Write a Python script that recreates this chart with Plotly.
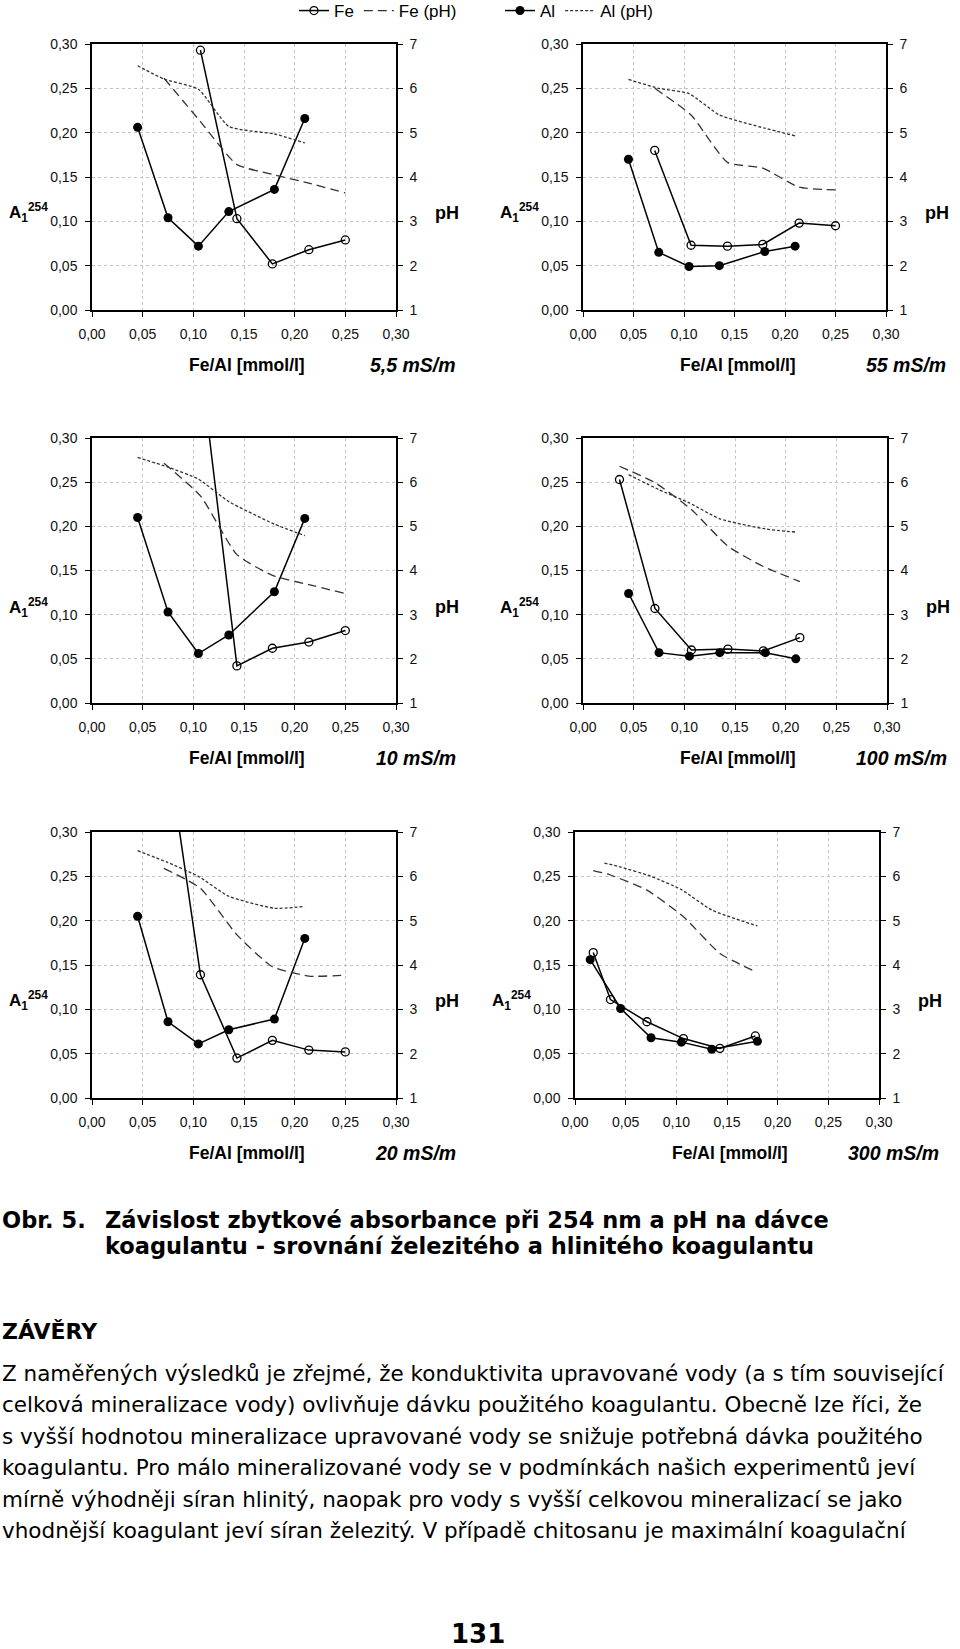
import plotly.graph_objects as go

W, H = 960, 1649

# ---------------- data ----------------
panel_labels = ["5,5 mS/m", "55 mS/m", "10 mS/m", "100 mS/m", "20 mS/m", "300 mS/m"]
x_ticks = [0.00, 0.05, 0.10, 0.15, 0.20, 0.25, 0.30]
a_ticks = [0.00, 0.05, 0.10, 0.15, 0.20, 0.25, 0.30]
ph_ticks = [1, 2, 3, 4, 5, 6, 7]

# panel 1: 5,5 mS/m
fe_x_1 = [0.071, 0.107, 0.143, 0.178, 0.214, 0.250]
fe_a_1 = [None, 0.293, 0.103, 0.052, 0.068, 0.079]
fe_ph_1 = [6.23, 5.25, 4.28, 4.06, 3.86, 3.64]
al_x_1 = [0.045, 0.075, 0.105, 0.135, 0.180, 0.210]
al_a_1 = [0.206, 0.104, 0.072, 0.111, 0.136, 0.216]
al_ph_x_1 = [0.045, 0.071, 0.105, 0.135, 0.180, 0.210]
al_ph_1 = [6.51, 6.21, 5.98, 5.14, 4.97, 4.77]

# panel 2: 55 mS/m
fe_x_2 = [0.071, 0.107, 0.143, 0.178, 0.214, 0.250]
fe_a_2 = [0.180, 0.073, 0.072, 0.074, 0.098, 0.095]
fe_ph_2 = [6.00, 5.40, 4.33, 4.20, 3.77, 3.71]
al_x_2 = [0.045, 0.075, 0.105, 0.135, 0.180, 0.210]
al_a_2 = [0.170, 0.065, 0.049, 0.050, 0.066, 0.072]
al_ph_x_2 = [0.045, 0.075, 0.105, 0.135, 0.180, 0.210]
al_ph_2 = [6.20, 6.00, 5.88, 5.40, 5.10, 4.93]

# panel 3: 10 mS/m
fe_x_3 = [0.071, 0.107, 0.143, 0.178, 0.214, 0.250]
fe_a_3 = [None, 0.385, 0.042, 0.062, 0.069, 0.082]
fe_ph_3 = [6.43, 5.69, 4.36, 3.89, 3.68, 3.48]
al_x_3 = [0.045, 0.075, 0.105, 0.135, 0.180, 0.210]
al_a_3 = [0.210, 0.103, 0.056, 0.077, 0.126, 0.209]
al_ph_x_3 = [0.045, 0.075, 0.105, 0.135, 0.180, 0.210]
al_ph_3 = [6.56, 6.34, 6.07, 5.56, 5.05, 4.79]

# panel 4: 100 mS/m
fe_x_4 = [0.036, 0.071, 0.107, 0.143, 0.178, 0.214]
fe_a_4 = [0.253, 0.107, 0.060, 0.061, 0.059, 0.074]
fe_ph_4 = [6.36, 5.99, 5.38, 4.55, 4.09, 3.75]
al_x_4 = [0.045, 0.075, 0.105, 0.135, 0.180, 0.210]
al_a_4 = [0.124, 0.057, 0.053, 0.057, 0.057, 0.050]
al_ph_x_4 = [0.045, 0.075, 0.105, 0.135, 0.180, 0.210]
al_ph_4 = [6.17, 5.83, 5.53, 5.17, 4.94, 4.87]

# panel 5: 20 mS/m
fe_x_5 = [0.071, 0.107, 0.143, 0.178, 0.214, 0.250]
fe_a_5 = [0.421, 0.139, 0.045, 0.065, 0.054, 0.052]
fe_ph_5 = [6.18, 5.73, 4.68, 3.96, 3.75, 3.77]
al_x_5 = [0.045, 0.075, 0.105, 0.135, 0.180, 0.210]
al_a_5 = [0.205, 0.086, 0.061, 0.077, 0.089, 0.180]
al_ph_x_5 = [0.045, 0.075, 0.105, 0.135, 0.180, 0.210]
al_ph_5 = [6.58, 6.31, 6.00, 5.55, 5.28, 5.32]

# panel 6: 300 mS/m
fe_x_6 = [0.018, 0.035, 0.071, 0.107, 0.143, 0.178]
fe_a_6 = [0.164, 0.111, 0.086, 0.067, 0.056, 0.070]
fe_ph_6 = [6.13, 6.03, 5.69, 5.09, 4.26, 3.85]
al_x_6 = [0.015, 0.045, 0.075, 0.105, 0.135, 0.180]
al_a_6 = [0.156, 0.101, 0.068, 0.063, 0.055, 0.064]
al_ph_x_6 = [0.029, 0.045, 0.075, 0.105, 0.135, 0.180]
al_ph_6 = [6.30, 6.21, 6.00, 5.70, 5.24, 4.88]

caption_lead = "Obr. 5."
caption_lines = [
    "Závislost zbytkové absorbance při 254 nm a pH na dávce",
    "koagulantu - srovnání železitého a hlinitého koagulantu",
]
section_title = "ZÁVĚRY"
paragraph_lines = [
    "Z naměřených výsledků je zřejmé, že konduktivita upravované vody (a s tím související",
    "celková mineralizace vody) ovlivňuje dávku použitého koagulantu. Obecně lze říci, že",
    "s vyšší hodnotou mineralizace upravované vody se snižuje potřebná dávka použitého",
    "koagulantu. Pro málo mineralizované vody se v podmínkách našich experimentů jeví",
    "mírně výhodněji síran hlinitý, naopak pro vody s vyšší celkovou mineralizací se jako",
    "vhodnější koagulant jeví síran železitý. V případě chitosanu je maximální koagulační",
]
page_number = "131"

panels = [
    (fe_x_1, fe_a_1, fe_ph_1, al_x_1, al_a_1, al_ph_x_1, al_ph_1),
    (fe_x_2, fe_a_2, fe_ph_2, al_x_2, al_a_2, al_ph_x_2, al_ph_2),
    (fe_x_3, fe_a_3, fe_ph_3, al_x_3, al_a_3, al_ph_x_3, al_ph_3),
    (fe_x_4, fe_a_4, fe_ph_4, al_x_4, al_a_4, al_ph_x_4, al_ph_4),
    (fe_x_5, fe_a_5, fe_ph_5, al_x_5, al_a_5, al_ph_x_5, al_ph_5),
    (fe_x_6, fe_a_6, fe_ph_6, al_x_6, al_a_6, al_ph_x_6, al_ph_6),
]

# ---------------- layout geometry (pixels) ----------------
boxes = [  # (left, right, top, bottom) of each plot area
    (92, 396, 44, 310),
    (583, 886, 44, 310),
    (92, 396, 438, 703),
    (583, 887, 438, 703),
    (92, 396, 832, 1098),
    (575, 879, 832, 1098),
]


def px(x):
    return x / W


def py(y):
    return 1 - y / H


FONT = "Liberation Sans, Arial, sans-serif"
TEXTFONT = "DejaVu Sans, Verdana, sans-serif"
PH_COLOR = "#333333"

fig = go.Figure()
layout = dict(
    width=W, height=H, autosize=False,
    margin=dict(l=0, r=0, t=0, b=0, autoexpand=False),
    paper_bgcolor="white", plot_bgcolor="white",
    separators=", ",
    font=dict(family=FONT, color="black", size=14),
)

annotations = []


def note(x, y, text, size, family=FONT, xanchor="left", weight="normal", style="normal"):
    annotations.append(dict(x=px(x), y=py(y), xref="paper", yref="paper", text=text,
                            showarrow=False, xanchor=xanchor, yanchor="middle",
                            font=dict(family=family, size=size, color="black",
                                      weight=weight, style=style)))


for i, (box, data) in enumerate(zip(boxes, panels), start=1):
    l, r, t, b = box
    fx, fa, fph, ax_, aa, aphx, aph = data
    xa = "x" if i == 1 else f"x{i}"
    ya = "y" if i == 1 else f"y{i}"
    yph = f"y{i + 6}"
    first = i == 1
    fig.add_trace(go.Scatter(
        x=fx, y=fa, xaxis=xa, yaxis=ya, name="Fe", mode="lines+markers",
        line=dict(color="black", width=1.5),
        marker=dict(symbol="circle-open", size=8, color="black", line=dict(width=1.3)),
        showlegend=first, legend="legend", connectgaps=False,
    ))
    fig.add_trace(go.Scatter(
        x=fx, y=fph, xaxis=xa, yaxis=yph, name="Fe (pH)", mode="lines",
        line=dict(color=PH_COLOR, width=1.3, dash="9px,5px", shape="spline", smoothing=0.5),
        showlegend=first, legend="legend",
    ))
    fig.add_trace(go.Scatter(
        x=ax_, y=aa, xaxis=xa, yaxis=ya, name="Al", mode="lines+markers",
        line=dict(color="black", width=1.5),
        marker=dict(symbol="circle", size=9, color="black"),
        showlegend=first, legend="legend2",
    ))
    fig.add_trace(go.Scatter(
        x=aphx, y=aph, xaxis=xa, yaxis=yph, name="Al (pH)", mode="lines",
        line=dict(color=PH_COLOR, width=1.3, dash="3px,2px", shape="spline", smoothing=0.5),
        showlegend=first, legend="legend2",
    ))

    common = dict(showline=True, linecolor="black", linewidth=1.5, ticks="outside",
                  ticklen=5, tickcolor="black", automargin=False,
                  tickfont=dict(family=FONT, size=14, color="#111"), zeroline=False)
    grid = dict(showgrid=True, gridcolor="#c4c4c4", griddash="dot", gridwidth=1)
    layout[f"xaxis{'' if first else i}"] = dict(
        domain=[px(l), px(r)], anchor=ya, range=[0, 0.30], tickvals=x_ticks, tickformat=".2f",
        mirror=True, ticklabelstandoff=5, **grid, **common)
    layout[f"yaxis{'' if first else i}"] = dict(
        domain=[py(b), py(t)], anchor=xa, range=[0, 0.30], tickvals=a_ticks, tickformat=".2f",
        ticklabelstandoff=5, **grid, **common)
    layout[f"yaxis{i + 6}"] = dict(
        domain=[py(b), py(t)], anchor=xa, overlaying=ya, side="right", range=[1, 7],
        tickvals=ph_ticks, showgrid=False, ticklabelstandoff=4, **common)

    cy = t + 169
    note(l - 85, cy, "A<sub>1</sub><sup>254</sup>", 17, weight="bold")
    note(r + 37, cy, "pH", 18, weight="bold")
    note(l + 155, b + 55, "Fe/Al [mmol/l]", 17.5, xanchor="center", weight="bold")
    note(r + 62, b + 55, panel_labels[i - 1], 19.5, xanchor="right", weight="bold", style="italic")

# caption & text
note(0, 1220, caption_lead, 22.5, family=TEXTFONT, weight="bold")
for k, line in enumerate(caption_lines):
    note(103, 1220 + 26 * k, line, 22.5, family=TEXTFONT, weight="bold")
note(0, 1331, section_title, 22, family=TEXTFONT, weight="bold")
for k, line in enumerate(paragraph_lines):
    note(0, 1373 + 31.5 * k, line, 21.5, family=TEXTFONT)
note(478, 1634, page_number, 26, family=TEXTFONT, xanchor="center", weight="bold")

layout["annotations"] = annotations
legend_common = dict(orientation="h", yanchor="middle", itemwidth=30,
                     font=dict(family=FONT, size=17, color="black"),
                     bgcolor="rgba(0,0,0,0)", tracegroupgap=0)
layout["legend"] = dict(x=px(294), y=py(11), xanchor="left", **legend_common)
layout["legend2"] = dict(x=px(500), y=py(11), xanchor="left", **legend_common)

fig.update_layout(**layout)
fig.write_html("out.html", config={"displayModeBar": False},
               post_script="document.body.style.margin='0';")
